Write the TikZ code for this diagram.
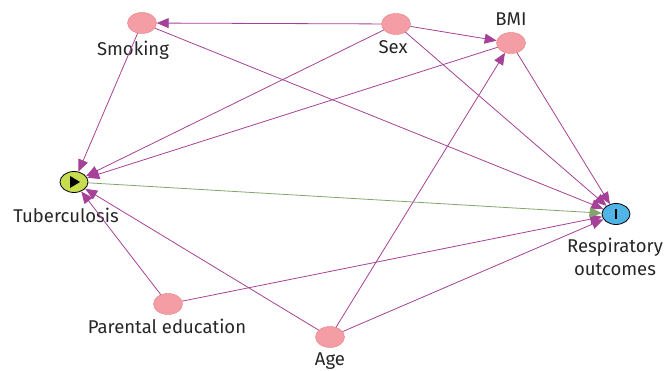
\documentclass[tikz,border=0pt]{standalone}
\usepackage{fontspec}
\setmainfont{Fira Sans}
\usetikzlibrary{arrows.meta,shapes.geometric}
\definecolor{edgepurple}{RGB}{165,65,150}
\definecolor{edgegreen}{RGB}{130,165,110}
\definecolor{covfill}{RGB}{244,157,165}
\definecolor{covline}{RGB}{232,125,130}
\definecolor{expfill}{RGB}{200,220,80}
\definecolor{outfill}{RGB}{80,180,230}
\tikzset{
  var/.style={ellipse, draw=covline, fill=covfill, minimum width=29pt, minimum height=21pt, inner sep=0pt},
  exposure/.style={var, draw=black, fill=expfill, line width=0.8pt, minimum width=28pt},
  outcome/.style={var, draw=black, fill=outfill, line width=0.8pt, minimum width=28pt},
  causal/.style={draw=edgepurple, line width=0.8pt, -{Triangle[length=12pt,width=10pt]}},
  direct/.style={draw=edgegreen, line width=0.8pt, -{Triangle[length=12pt,width=10pt]}},
  varname/.style={font=\fontsize{18.5}{23}\selectfont, text=black!85, align=center}
}
\begin{document}
\begin{tikzpicture}[x=1pt, y=-1pt]
  \useasboundingbox (0,0) rectangle (667,371);
  \node[var] (smoking) at (142,23) {};
  \node[var] (sex) at (396,24) {};
  \node[var] (bmi) at (511,43) {};
  \node[exposure] (tb) at (74,182) {};
  \node[outcome] (resp) at (616,214) {};
  \node[var] (parent) at (168,304) {};
  \node[var] (age) at (330,337) {};
  % symbols inside exposure and outcome
  \fill[black] (70,176) -- (80,182) -- (70,188) -- cycle;
  \fill[black] (615,209) rectangle (617,219);
  % names
  \node[varname] (smokingname) at (133,50) {Smoking};
  \node[varname] (sexname) at (393,47) {Sex};
  \node[varname] (bminame) at (511,19) {BMI};
  \node[varname] (tbname) at (66,215) {Tuberculosis};
  \node[varname] (respname) at (615,257) {Respiratory\\outcomes};
  \node[varname] (parentname) at (167,326) {Parental education};
  \node[varname] (agename) at (330,361) {Age};
  % arrows
  \draw[causal] (sex) -- (smoking);
  \draw[causal] (sex) -- (bmi);
  \draw[causal] (sex) -- (tb);
  \draw[causal] (sex) -- (resp);
  \draw[causal] (smoking) -- (tb);
  \draw[causal] (smoking) -- (resp);
  \draw[causal] (bmi) -- (tb);
  \draw[causal] (bmi) -- (resp);
  \draw[causal] (parent) -- (tb);
  \draw[causal] (parent) -- (resp);
  \draw[causal] (age) -- (tb);
  \draw[causal] (age) -- (bmi);
  \draw[causal] (age) -- (resp);
  \draw[direct] (tb) -- (resp);
\end{tikzpicture}
\end{document}
